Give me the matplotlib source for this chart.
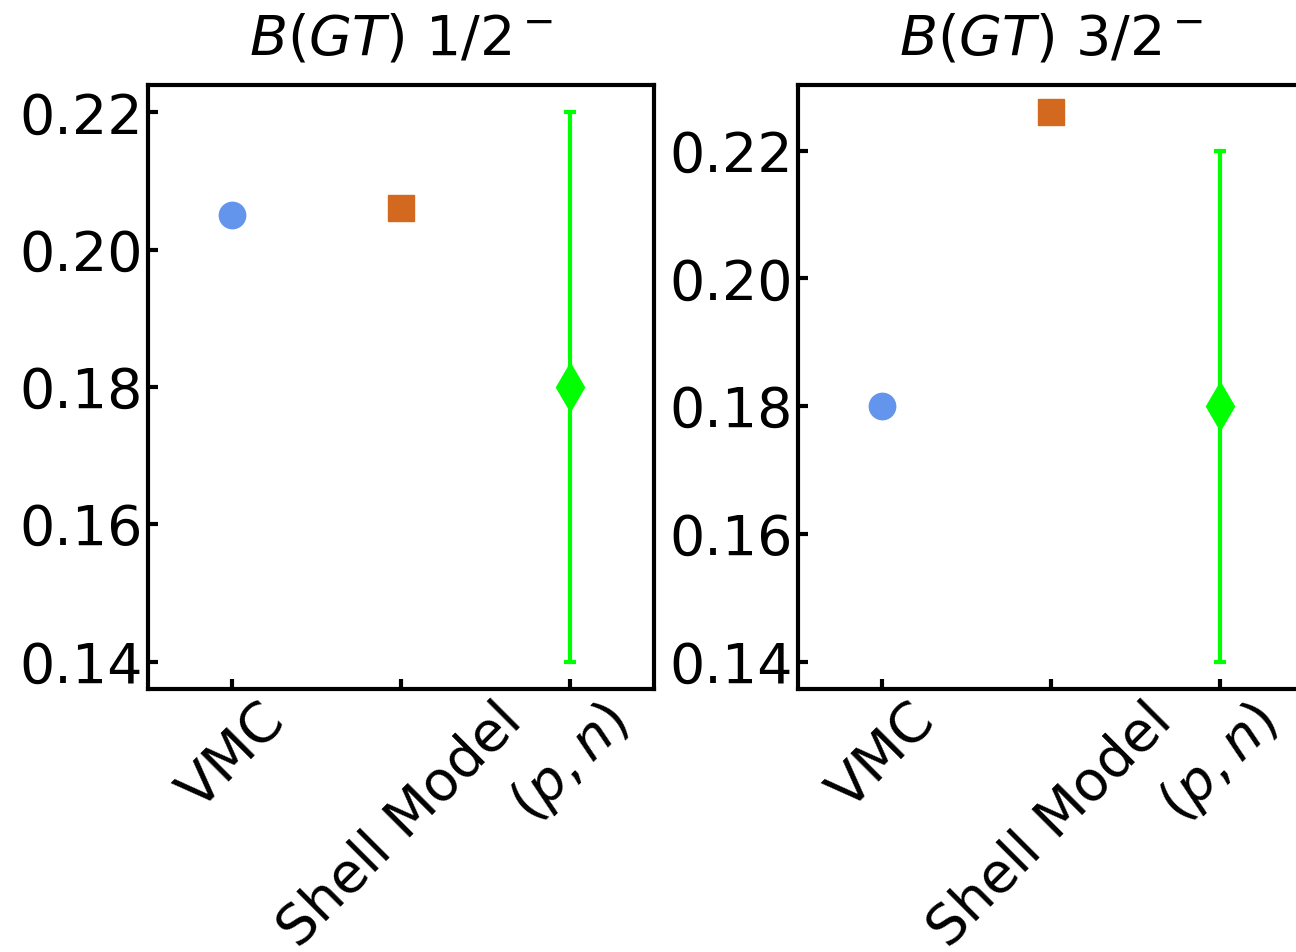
import numpy as np
import matplotlib
matplotlib.use("Agg")
import matplotlib.pyplot as plt

# data
methods = ["VMC", "Shell Model", r"$(p,n)$"]
titles = [r"$B(GT)\ 1/2^-$", r"$B(GT)\ 3/2^-$"]
vmc = [0.205, 0.180]
shell = [0.206, 0.226]
pn = [0.18, 0.18]
pn_err = [0.04, 0.04]

plt.rcParams["font.size"] = 40
plt.rcParams["mathtext.fontset"] = "dejavusans"

fig = plt.figure(figsize=(12.96, 9.52), dpi=100)
ax1 = fig.add_axes([0.1142, 0.2763, 0.3904, 0.6345])
ax2 = fig.add_axes([0.6157, 0.2763, 0.3904, 0.6345])

for i, ax in enumerate([ax1, ax2]):
    ax.plot([0], [vmc[i]], 'o', color='cornflowerblue', ms=19)
    ax.plot([1], [shell[i]], 's', color='chocolate', ms=19)
    ax.errorbar([2], [pn[i]], yerr=[pn_err[i]], fmt='d', color='lime',
                ms=24, elinewidth=3, capsize=4, capthick=3)
    ax.set_xlim(-0.5, 2.5)
    ax.set_xticks([0, 1, 2])
    ax.set_xticklabels(methods, rotation=45)
    ax.set_yticks([0.14, 0.16, 0.18, 0.20, 0.22])
    ax.set_yticklabels(["0.14", "0.16", "0.18", "0.20", "0.22"])
    ax.tick_params(direction='in', length=7, width=3, labelsize=40)
    for s in ax.spines.values():
        s.set_linewidth(3)
    ax.set_title(titles[i], fontsize=40, pad=22)

fig.savefig("out.png", dpi=100)
